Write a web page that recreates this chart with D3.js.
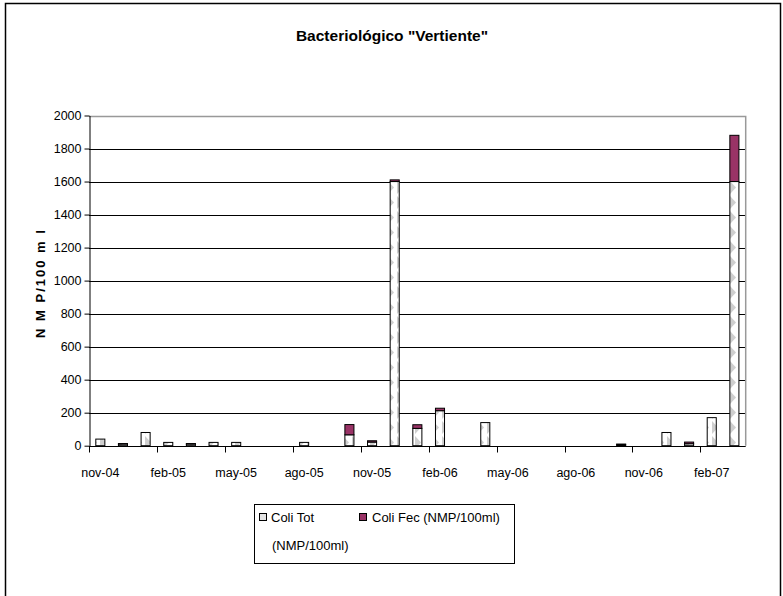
<!DOCTYPE html>
<html>
<head>
<meta charset="utf-8">
<script src="https://cdn.jsdelivr.net/npm/d3@7"></script>
<style>
  body { margin: 0; background: #fff; }
  svg { display: block; font-family: "Liberation Sans", Arial, sans-serif; }
</style>
</head>
<body>
<svg width="783" height="596"></svg>
<script>
// monthly samples, nov-04 .. mar-07
var months = ["nov-04","dic-04","ene-05","feb-05","mar-05","abr-05","may-05","jun-05","jul-05","ago-05",
              "sep-05","oct-05","nov-05","dic-05","ene-06","feb-06","mar-06","abr-06","may-06","jun-06",
              "jul-06","ago-06","sep-06","oct-06","nov-06","dic-06","ene-07","feb-07","mar-07"];
var coliTot = [40, 10, 80, 20, 10, 20, 20, 0, 0, 20, 0, 66, 22, 1600, 105, 212, 0, 140, 0, 0,
               0, 0, 0, 5, 0, 80, 12, 170, 1600];
var coliFec = [0, 3, 0, 0, 3, 0, 0, 0, 0, 0, 0, 62, 8, 10, 22, 15, 0, 0, 0, 0,
               0, 0, 0, 5, 0, 0, 10, 0, 280];
var yTicks = [0, 200, 400, 600, 800, 1000, 1200, 1400, 1600, 1800, 2000];
var seriesNames = ["Coli Tot", "Coli Fec (NMP/100ml)"];

var svg = d3.select("svg");
var pL = 89, pR = 745.7, pT = 115.5, pB = 445.7;
var fnt = "'Liberation Sans', Arial, sans-serif";

// chart frame
svg.append("rect")
    .attr("x", 5.5).attr("y", 3.5).attr("width", 775).attr("height", 620)
    .attr("fill", "#fff").attr("stroke", "#000").attr("stroke-width", 1.5);

var defs = svg.append("defs");
var pat = defs.append("pattern")
    .attr("id", "tot").attr("patternUnits", "userSpaceOnUse")
    .attr("width", 9).attr("height", 15);
pat.append("rect").attr("width", 9).attr("height", 15).attr("fill", "#fff");
pat.append("polygon").attr("points", "1,1 7,7.5 1,14").attr("fill", "#cfcfcf");

var x = d3.scaleBand().domain(months).range([pL, pR]).paddingInner(0.6).paddingOuter(0.3);
var xi = d3.scaleLinear().domain([0, months.length]).range([pL, pR]);
var y = d3.scaleLinear().domain([0, 2000]).range([pB, pT]);

// gridlines
svg.append("g").selectAll("line")
    .data(yTicks.filter(function(d) { return d > 0 && d < 2000; }))
    .enter().append("line")
      .attr("x1", pL).attr("x2", pR)
      .attr("y1", function(d) { return Math.round(y(d)) + 0.5; })
      .attr("y2", function(d) { return Math.round(y(d)) + 0.5; })
      .attr("stroke", "#000").attr("stroke-width", 1);

// plot area border top / right
svg.append("path")
    .attr("d", "M" + pL + "," + (Math.round(pT) + 0.5) + "H" + pR + "V" + pB)
    .attr("fill", "none").attr("stroke", "#999").attr("stroke-width", 1.5);

// bars
var stack = months.map(function(m, i) { return {m: m, tot: coliTot[i], fec: coliFec[i]}; });
var bars = svg.append("g");
bars.selectAll("rect.tot")
    .data(stack.filter(function(d) { return d.tot > 0; }))
    .enter().append("rect")
      .attr("class", "tot")
      .attr("x", function(d) { return x(d.m); })
      .attr("width", x.bandwidth())
      .attr("y", function(d) { return y(d.tot); })
      .attr("height", function(d) { return y(0) - y(d.tot); })
      .attr("fill", "url(#tot)").attr("stroke", "#000").attr("stroke-width", 1);
bars.selectAll("rect.fec")
    .data(stack.filter(function(d) { return d.fec > 0; }))
    .enter().append("rect")
      .attr("class", "fec")
      .attr("x", function(d) { return x(d.m); })
      .attr("width", x.bandwidth())
      .attr("y", function(d) { return y(d.tot + d.fec); })
      .attr("height", function(d) { return y(d.tot) - y(d.tot + d.fec); })
      .attr("fill", "#993366").attr("stroke", "#000").attr("stroke-width", 1);

// y axis
svg.append("g")
    .attr("transform", "translate(" + (pL + 0.5) + ",0)")
    .call(d3.axisLeft(y).tickValues(yTicks).tickFormat(d3.format("d"))
          .tickSize(5).tickSizeOuter(0).tickPadding(3))
    .call(function(g) {
      g.select(".domain").attr("stroke", "#000");
      g.selectAll("text").attr("font-size", 12.5).attr("fill", "#000").attr("font-family", fnt);
    });

// x axis: ticks on every third month boundary, labels centered in month
var xg = svg.append("g").attr("transform", "translate(0," + (Math.round(pB) + 0.5) + ")");
xg.append("line").attr("x1", pL).attr("x2", pR).attr("stroke", "#000");
xg.selectAll("line.tk")
    .data(d3.range(0, months.length, 3))
    .enter().append("line")
      .attr("x1", function(d) { return Math.round(xi(d)) + 0.5; })
      .attr("x2", function(d) { return Math.round(xi(d)) + 0.5; })
      .attr("y1", 0).attr("y2", 6).attr("stroke", "#000");
xg.selectAll("text")
    .data(months.filter(function(d, i) { return i % 3 === 0; }))
    .enter().append("text")
      .attr("x", function(d) { return x(d) + x.bandwidth() / 2; })
      .attr("y", 30)
      .attr("text-anchor", "middle").attr("font-size", 12.5).attr("font-family", fnt)
      .text(function(d) { return d; });

// titles
svg.append("text")
    .attr("x", 392).attr("y", 41).attr("text-anchor", "middle")
    .attr("font-size", 15.5).attr("font-weight", "bold").attr("font-family", fnt)
    .text('Bacteriológico "Vertiente"');
svg.append("text")
    .attr("transform", "translate(45,283) rotate(-90)")
    .attr("text-anchor", "middle").attr("font-size", 13).attr("font-weight", "bold")
    .attr("font-family", fnt).attr("letter-spacing", 2)
    .text("N M P/100 m l");

// legend
var lg = svg.append("g");
lg.append("rect").attr("x", 254.5).attr("y", 504.5).attr("width", 260).attr("height", 59)
    .attr("fill", "#fff").attr("stroke", "#000");
lg.append("rect").attr("x", 259.5).attr("y", 513.5).attr("width", 7).attr("height", 7)
    .attr("fill", "#e4e4e4").attr("stroke", "#000");
lg.append("rect").attr("x", 359.5).attr("y", 513.5).attr("width", 7).attr("height", 7)
    .attr("fill", "#993366").attr("stroke", "#000");
lg.append("text").attr("x", 271).attr("y", 522).attr("font-size", 13).attr("font-family", fnt).text(seriesNames[0]);
lg.append("text").attr("x", 272).attr("y", 550).attr("font-size", 13).attr("font-family", fnt).text("(NMP/100ml)");
lg.append("text").attr("x", 372).attr("y", 522).attr("font-size", 13).attr("font-family", fnt).text(seriesNames[1]);
</script>
</body>
</html>
